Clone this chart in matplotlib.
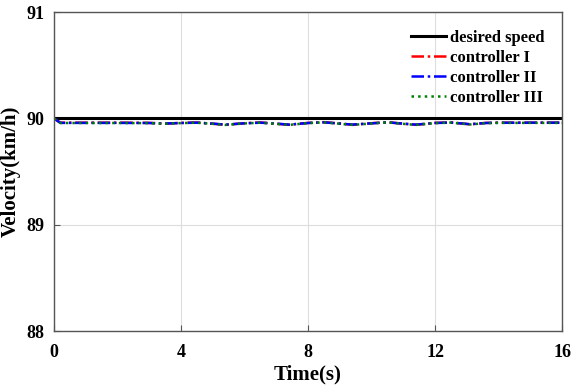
import numpy as np
import matplotlib
matplotlib.use('Agg')
import matplotlib.pyplot as plt

plt.rcParams['font.family'] = 'Liberation Serif'
plt.rcParams['font.weight'] = 'bold'

# time points (s) and velocities (km/h)
t = [0, 0.2, 1, 2, 3, 3.5, 4, 4.5, 5, 5.4, 6, 6.5, 7, 7.4, 8, 8.5, 9, 9.4,
     10, 10.5, 11, 11.4, 12, 12.5, 13.1, 13.6, 14, 15, 16]
desired = [90.0] * len(t)
ctrl1 = [90.0, 89.96, 89.96, 89.96, 89.958, 89.951, 89.958, 89.962, 89.95, 89.94,
         89.955, 89.962, 89.95, 89.94, 89.958, 89.965, 89.952, 89.94, 89.955, 89.965,
         89.95, 89.94, 89.958, 89.963, 89.944, 89.958, 89.96, 89.96, 89.96]
ctrl2 = [90.0, 89.958, 89.958, 89.958, 89.957, 89.952, 89.957, 89.96, 89.951, 89.942,
         89.954, 89.96, 89.951, 89.942, 89.957, 89.963, 89.952, 89.942, 89.954, 89.963,
         89.951, 89.942, 89.957, 89.961, 89.946, 89.957, 89.959, 89.96, 89.96]
ctrl3 = [90.0, 89.957, 89.957, 89.957, 89.956, 89.95, 89.956, 89.96, 89.949, 89.939,
         89.953, 89.96, 89.949, 89.939, 89.956, 89.963, 89.95, 89.939, 89.953, 89.963,
         89.949, 89.939, 89.956, 89.961, 89.943, 89.956, 89.958, 89.958, 89.958]
xticks = [0, 4, 8, 12, 16]
yticks = [88, 89, 90, 91]

fig = plt.figure(figsize=(5.84, 3.9), dpi=100)
ax = fig.add_axes([0.0925, 0.151, 0.87, 0.818])

ax.plot(t, desired, color='black', lw=2.2, label='desired speed')
ax.plot(t, ctrl1, color='red', lw=1.8, ls=(0, (5, 1.5, 1, 1.5)), label='controller I')
ax.plot(t, ctrl2, color='blue', lw=1.8, ls=(0, (5, 1.5, 1, 1.5)), label='controller II')
ax.plot(t, ctrl3, color='green', lw=1.8, ls=':', label='controller III')

ax.set_xlim(0, 16)
ax.set_ylim(88, 91)
ax.set_xticks(xticks)
ax.set_yticks(yticks)
ax.tick_params(direction='in', length=4, labelsize=13, color='#555555')
ax.tick_params(axis='x', pad=9)
ax.tick_params(axis='y', pad=7)
ax.grid(True, color='#dddddd', lw=0.8)
for s in ax.spines.values():
    s.set_color('#555555')
    s.set_linewidth(1.0)

ax.set_xlabel('Time(s)', fontsize=15, fontweight='bold', labelpad=3)
ax.set_ylabel('Velocity(km/h)', fontsize=15, fontweight='bold', labelpad=4)

ax.legend(loc='upper right', frameon=False, fontsize=12, handlelength=2.1,
          borderaxespad=0.3, labelspacing=0.25, handletextpad=0.25,
          bbox_to_anchor=(0.989, 0.981))

fig.savefig('out.png', dpi=100)
